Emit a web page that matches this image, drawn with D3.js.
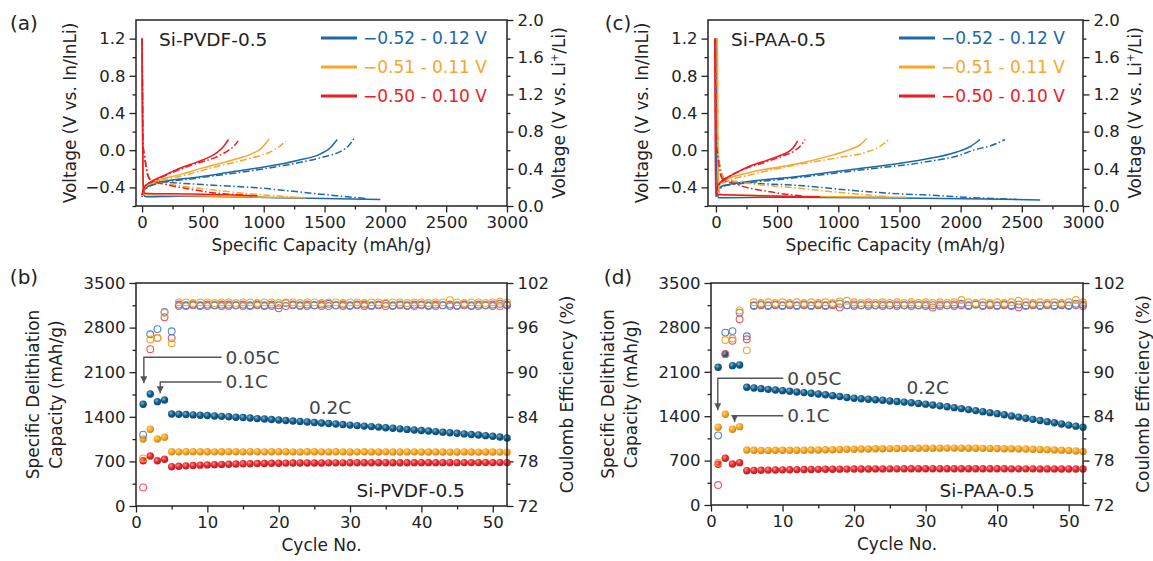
<!DOCTYPE html>
<html>
<head>
<meta charset="utf-8">
<script src="https://cdn.jsdelivr.net/npm/d3@7"></script>
<style>
  body { margin: 0; background: #fff; }
  text { font-family: "DejaVu Sans", "Liberation Sans", sans-serif; fill: #222; }
</style>
</head>
<body>
<svg id="chart" width="1153" height="561"></svg>
<script>
// ---------- data ----------
const legendLabels = ["\u22120.52 - 0.12 V", "\u22120.51 - 0.11 V", "\u22120.50 - 0.10 V"];
const seriesKeys = ["blue", "orange", "red"];

// voltage profiles, [capacity mAh/g, V vs In/InLi]; A = solid, B = dash-dot
// Si-PVDF-0.5
const pvdfBlueDisA = [[0,1.2],[3,0.5],[6,-0.1],[10,-0.4],[18,-0.49],[40,-0.5],[300,-0.495],[700,-0.5],[1100,-0.51],[1500,-0.52],[1959,-0.53]];
const pvdfBlueChgA = [[0,-0.5],[10,-0.45],[30,-0.41],[74,-0.37],[200,-0.33],[456,-0.29],[750,-0.23],[1003,-0.18],[1276,-0.11],[1467,-0.04],[1550,0.03],[1604,0.115]];
const pvdfBlueDisB = [[0,1.2],[4,0.5],[8,0.05],[20,-0.06],[40,-0.22],[70,-0.32],[183,-0.34],[500,-0.37],[1000,-0.41],[1300,-0.45],[1522,-0.48],[1850,-0.52]];
const pvdfBlueChgB = [[0,-0.5],[12,-0.44],[35,-0.41],[100,-0.37],[456,-0.30],[1003,-0.20],[1300,-0.13],[1500,-0.07],[1650,0.0],[1700,0.05],[1740,0.125]];
const pvdfOrangeDisA = [[0,1.2],[3,0.5],[6,-0.1],[10,-0.4],[18,-0.47],[40,-0.48],[400,-0.49],[800,-0.5],[1350,-0.51]];
const pvdfOrangeChgA = [[0,-0.49],[10,-0.43],[25,-0.39],[80,-0.35],[320,-0.26],[500,-0.19],[730,-0.11],[900,-0.04],[980,0.02],[1044,0.12]];
const pvdfOrangeDisB = [[0,1.2],[4,0.5],[8,0.05],[20,-0.06],[40,-0.22],[80,-0.33],[300,-0.38],[600,-0.43],[900,-0.47],[1200,-0.50],[1300,-0.51]];
const pvdfOrangeChgB = [[0,-0.49],[12,-0.43],[30,-0.39],[100,-0.35],[350,-0.27],[600,-0.18],[850,-0.10],[1050,-0.02],[1130,0.04],[1180,0.10]];
const pvdfRedDisA = [[0,1.2],[3,0.5],[6,-0.1],[10,-0.38],[18,-0.46],[40,-0.465],[400,-0.47],[700,-0.48],[950,-0.49]];
const pvdfRedChgA = [[0,-0.48],[10,-0.42],[20,-0.39],[60,-0.35],[183,-0.27],[300,-0.2],[456,-0.125],[560,-0.07],[620,-0.02],[670,0.04],[710,0.115]];
const pvdfRedDisB = [[0,1.2],[4,0.5],[8,0.05],[20,-0.06],[40,-0.24],[70,-0.32],[200,-0.37],[400,-0.42],[600,-0.46],[800,-0.48],[900,-0.49]];
const pvdfRedChgB = [[0,-0.48],[12,-0.42],[30,-0.38],[100,-0.33],[250,-0.24],[450,-0.14],[600,-0.08],[700,-0.01],[760,0.05],[790,0.10]];
// Si-PAA-0.5
const paaBlueDisA = [[0,1.2],[3,0.5],[6,-0.1],[12,-0.45],[20,-0.51],[50,-0.51],[500,-0.505],[1500,-0.515],[2200,-0.525],[2650,-0.535]];
const paaBlueChgA = [[0,-0.5],[10,-0.45],[25,-0.41],[60,-0.38],[141,-0.36],[687,-0.28],[1100,-0.21],[1505,-0.14],[1695,-0.10],[1968,-0.02],[2080,0.04],[2159,0.115]];
const paaBlueDisB = [[0,1.2],[4,0.5],[10,0.05],[18,-0.05],[40,-0.22],[70,-0.31],[141,-0.34],[687,-0.38],[1096,-0.43],[1505,-0.47],[1695,-0.48],[2100,-0.51],[2459,-0.53]];
const paaBlueChgB = [[0,-0.5],[12,-0.45],[30,-0.42],[80,-0.38],[200,-0.36],[700,-0.29],[1200,-0.21],[1695,-0.13],[2000,-0.05],[2104,0.0],[2250,0.05],[2363,0.115]];
const paaOrangeDisA = [[12,1.2],[15,0.5],[18,-0.1],[24,-0.4],[32,-0.47],[60,-0.48],[500,-0.49],[1000,-0.5],[1560,-0.505]];
const paaOrangeChgA = [[0,-0.48],[10,-0.42],[25,-0.38],[60,-0.33],[278,-0.24],[687,-0.14],[959,-0.05],[1100,0.01],[1180,0.06],[1232,0.125]];
const paaOrangeDisB = [[0,1.2],[4,0.5],[10,0.05],[18,-0.05],[40,-0.22],[70,-0.31],[141,-0.33],[687,-0.41],[1096,-0.465],[1400,-0.50]];
const paaOrangeChgB = [[0,-0.48],[12,-0.42],[30,-0.38],[80,-0.34],[300,-0.26],[687,-0.15],[1000,-0.08],[1232,-0.02],[1340,0.04],[1409,0.11]];
const paaRedDisA = [[-10,1.2],[-8,0.5],[-5,-0.1],[-2,-0.4],[5,-0.48],[30,-0.48],[400,-0.49],[700,-0.5],[850,-0.5]];
const paaRedChgA = [[0,-0.47],[8,-0.41],[15,-0.38],[33,-0.35],[141,-0.26],[278,-0.17],[414,-0.11],[520,-0.06],[600,-0.01],[640,0.04],[668,0.10]];
const paaRedDisB = [[-5,1.2],[0,0.5],[5,0.05],[15,-0.05],[30,-0.22],[60,-0.32],[150,-0.36],[278,-0.41],[414,-0.44],[550,-0.47],[700,-0.49]];
const paaRedChgB = [[0,-0.47],[10,-0.41],[20,-0.38],[60,-0.33],[200,-0.22],[400,-0.13],[550,-0.06],[650,0.0],[700,0.06],[728,0.115]];

// cycling, cycles 1..52: delithiation capacity (mAh/g) and coulomb efficiency (%)
const cycles = d3.range(1, 53);
const pvdfCapBlue = [1596,1758,1638,1664,1444,1440,1435,1430,1425,1420,
  1413,1407,1400,1394,1388,1380,1372,1365,1357,1350,
  1342,1335,1327,1318,1310,1302,1294,1286,1278,1270,
  1262,1254,1246,1238,1228,1220,1211,1202,1193,1185,
  1176,1168,1159,1150,1141,1132,1123,1114,1104,1094,1082,1068];
const pvdfCapOrange = [1052,1204,1052,1078,852,850,851,853,852,851,
  850,852,853,851,850,852,851,850,852,853,
  851,850,849,851,852,850,849,851,850,848,
  850,851,849,848,850,849,847,849,850,848,
  847,849,848,846,848,849,847,846,848,847,846,845];
const pvdfCapRed = [711,785,711,733,617,624,630,636,641,645,
  649,653,656,659,662,664,666,668,670,672,
  673,674,675,675,676,676,677,677,677,678,
  678,678,678,679,679,679,679,679,680,680,
  680,680,680,680,680,681,681,681,681,681,681,681];
const pvdfCeBlue = [81.6,95.1,95.8,98.1,95.5,99.1,99.0,99.1,99.0,99.1,
  99.0,99.1,99.1,99.0,99.1,99.0,99.1,99.0,99.1,99.0,
  99.3,99.1,99.0,99.1,99.0,99.1,99.2,99.0,99.1,99.0,
  99.1,99.1,99.0,99.1,99.2,99.0,99.1,99.0,99.1,99.1,
  99.0,99.1,99.0,99.1,99.0,99.1,99.0,99.1,99.0,99.1,99.2,99.1];
const pvdfCeOrange = [78.4,94.4,94.6,98.0,93.9,99.4,99.4,99.3,99.4,99.4,
  99.3,99.4,99.4,99.3,99.4,99.4,99.3,99.4,99.4,99.3,
  99.4,99.4,99.3,99.4,99.4,99.3,99.4,99.4,99.3,99.4,
  99.4,99.3,99.4,99.4,99.3,99.4,99.4,99.3,99.4,99.4,
  99.3,99.4,99.4,99.7,99.4,99.3,99.4,99.4,99.3,99.4,99.5,99.4];
const pvdfCeRed = [74.5,93.1,94.6,97.4,94.6,98.9,98.9,99.0,98.9,98.9,
  99.0,98.9,98.9,99.0,98.9,98.9,99.0,98.9,98.9,98.6,
  98.9,99.0,98.9,98.9,99.0,98.9,98.9,99.0,98.9,98.9,
  99.0,98.9,98.9,99.0,98.9,98.9,99.0,98.9,98.9,99.0,
  98.9,98.9,99.0,98.9,98.9,99.0,98.9,98.9,99.0,98.9,98.9,99.0];

const paaCapBlue = [2172,2377,2197,2208,1856,1845,1834,1823,1813,1803,
  1793,1782,1772,1761,1751,1738,1724,1710,1696,1683,
  1676,1668,1660,1651,1640,1631,1622,1612,1601,1590,
  1577,1563,1549,1535,1520,1504,1488,1472,1456,1440,
  1422,1404,1386,1368,1350,1332,1314,1296,1278,1260,1243,1225];
const paaCapOrange = [1226,1430,1194,1235,867,862,860,861,862,863,
  862,863,864,866,868,870,872,874,878,880,
  882,884,886,888,889,890,892,893,894,895,
  896,896,897,897,896,895,894,893,892,890,
  888,886,884,882,879,876,873,869,865,860,852,845];
const paaCapRed = [642,736,647,668,541,545,548,550,552,554,
  556,558,559,561,562,563,564,565,566,567,
  568,568,569,569,570,570,571,571,571,572,
  572,572,572,572,572,572,572,571,571,571,
  571,570,570,570,570,569,569,569,568,568,568,567];
const paaCeBlue = [81.4,95.3,95.5,98.0,94.8,99.0,99.1,99.0,99.1,99.0,
  99.1,99.0,99.1,99.0,99.1,99.0,99.1,99.2,99.0,99.1,
  99.0,99.1,99.0,99.1,99.0,99.1,99.0,99.1,99.0,99.1,
  99.0,99.1,99.0,99.1,99.2,99.0,99.1,99.0,99.1,99.0,
  99.1,99.0,99.1,99.0,99.1,99.0,99.1,99.0,99.1,99.0,99.2,99.1];
const paaCeOrange = [77.7,94.3,94.5,98.3,92.9,99.4,99.3,99.4,99.3,99.4,
  99.3,99.4,99.3,99.4,99.3,99.4,99.3,99.5,99.6,99.4,
  99.3,99.4,99.3,99.4,99.3,99.4,99.3,99.4,99.3,99.4,
  99.3,99.4,99.3,99.4,99.7,99.4,99.3,99.4,99.3,99.4,
  99.3,99.4,99.6,99.4,99.3,99.4,99.3,99.4,99.3,99.4,99.7,99.4];
const paaCeRed = [74.7,92.4,94.2,97.1,94.4,98.9,99.0,98.9,99.0,98.9,
  99.0,98.9,99.0,98.9,99.0,98.9,99.0,98.7,99.0,98.9,
  99.0,98.9,99.0,98.9,99.0,98.9,99.0,98.9,99.0,98.9,
  98.7,98.9,99.0,98.9,99.0,98.9,99.1,98.9,99.0,98.9,
  99.0,98.9,98.7,98.9,99.0,98.9,99.0,98.9,99.0,98.9,99.0,98.9];

// ---------- drawing ----------
const lineColor = { blue: "#1d68a6", orange: "#f9a62a", red: "#ec1c24" };
const ballColor = { blue: "#0e5d8c", orange: "#f7a51f", red: "#e8262b" };
const ringColor = { blue: "#4f86d2", orange: "#f5a524", red: "#ee5560" };

const svg = d3.select("#chart");
const defs = svg.append("defs");

seriesKeys.forEach(k => {
  const c = ballColor[k];
  const gr = defs.append("radialGradient").attr("id", "ball-" + k)
    .attr("cx", "38%").attr("cy", "35%").attr("r", "70%");
  gr.append("stop").attr("offset", "0%").attr("stop-color", d3.interpolateRgb(c, "#fff")(0.5));
  gr.append("stop").attr("offset", "50%").attr("stop-color", c);
  gr.append("stop").attr("offset", "100%").attr("stop-color", d3.color(c).darker(0.7));
});

defs.append("marker").attr("id", "arrow")
  .attr("viewBox", "0 0 8 8").attr("refX", 8).attr("refY", 4)
  .attr("markerWidth", 7).attr("markerHeight", 7)
  .attr("markerUnits", "userSpaceOnUse").attr("orient", "auto")
  .append("path").attr("d", "M0,0 L8,4 L0,8 z").attr("fill", "#555");

function addAxis(g, axisFn, scale, major, minor, fmt, transform) {
  g.append("g").attr("transform", transform)
    .call(axisFn(scale).tickValues(minor).tickSize(3.5).tickFormat(""))
    .call(a => a.select(".domain").remove())
    .selectAll("line").attr("stroke", "#222").attr("stroke-width", 1.3);
  const ax = g.append("g").attr("transform", transform)
    .call(axisFn(scale).tickValues(major).tickSize(6.5).tickPadding(4).tickFormat(fmt))
    .call(a => a.select(".domain").remove());
  ax.selectAll("line").attr("stroke", "#222").attr("stroke-width", 1.3);
  ax.selectAll("text").attr("font-size", "16.5px").attr("fill", "#222")
    .style("font-family", '"DejaVu Sans", sans-serif');
}

function frame(g, box) {
  g.append("rect").attr("x", box.x0).attr("y", box.y0)
    .attr("width", box.x1 - box.x0).attr("height", box.y1 - box.y0)
    .attr("fill", "none").attr("stroke", "#222").attr("stroke-width", 1.5);
}

function vTitle(g, x, y, lines, size) {
  const t = g.append("text").attr("transform", `translate(${x},${y}) rotate(-90)`)
    .attr("text-anchor", "middle").attr("font-size", size || "17px");
  lines(t);
}

function voltagePanel(box, xMin, curves, sample, letter, legendX) {
  const g = svg.append("g");
  const x = d3.scaleLinear().domain([xMin, 3000]).range([box.x0, box.x1]);
  const y = d3.scaleLinear().domain([-0.6, 1.4]).range([box.y1, box.y0]);
  const y2 = d3.scaleLinear().domain([0, 2.0]).range([box.y1, box.y0]);

  addAxis(g, d3.axisBottom, x, d3.range(0, 3001, 500), d3.range(250, 3000, 500), d3.format("d"), `translate(0,${box.y1})`);
  addAxis(g, d3.axisLeft, y, [-0.4, 0, 0.4, 0.8, 1.2], [-0.6, -0.2, 0.2, 0.6, 1.0], d3.format(".1f"), `translate(${box.x0},0)`);
  addAxis(g, d3.axisRight, y2, [0, 0.4, 0.8, 1.2, 1.6, 2.0], [0.2, 0.6, 1.0, 1.4, 1.8], d3.format(".1f"), `translate(${box.x1},0)`);

  const line = d3.line().x(d => x(d[0])).y(d => y(d[1])).curve(d3.curveMonotoneX);
  const clip = "clip-" + letter;
  defs.append("clipPath").attr("id", clip).append("rect")
    .attr("x", box.x0).attr("y", box.y0).attr("width", box.x1 - box.x0).attr("height", box.y1 - box.y0);
  const pg = g.append("g").attr("clip-path", `url(#${clip})`);
  ["blue", "orange", "red"].forEach(k => {
    curves[k].forEach((pts, i) => {
      pg.append("path").datum(pts).attr("d", line)
        .attr("fill", "none").attr("stroke", lineColor[k]).attr("stroke-width", 1.5)
        .attr("stroke-dasharray", i >= 2 ? "7,2.5,1.5,2.5" : null);
    });
  });
  frame(g, box);

  // legend
  legendLabels.forEach((lab, i) => {
    const k = seriesKeys[i];
    const ly = box.y0 + 18 + i * 29;
    g.append("line").attr("x1", legendX).attr("x2", legendX + 36).attr("y1", ly).attr("y2", ly)
      .attr("stroke", lineColor[k]).attr("stroke-width", 3);
    g.append("text").attr("x", legendX + 42).attr("y", ly).attr("dy", "0.35em")
      .attr("font-size", "17px").style("fill", lineColor[k]).text(lab);
  });
  g.append("text").attr("x", box.x0 + 23).attr("y", box.y0 + 20).attr("dy", "0.35em")
    .attr("font-size", "18.5px").text(sample);

  g.append("text").attr("x", (box.x0 + box.x1) / 2).attr("y", box.y1 + 45)
    .attr("text-anchor", "middle").attr("font-size", "17px").text("Specific Capacity (mAh/g)");
  vTitle(g, box.x0 - 60, (box.y0 + box.y1) / 2, t => t.text("Voltage (V vs. In/InLi)"));
  vTitle(g, box.x1 + 58, (box.y0 + box.y1) / 2, t => {
    t.append("tspan").text("Voltage (V vs. Li");
    t.append("tspan").attr("font-size", "10px").attr("dy", "-7").text("+");
    t.append("tspan").attr("dy", "7").text("/Li)");
  });
  g.append("text").attr("x", letter === "a" ? 24 : 618).attr("y", box.y0 + 3).attr("dy", "0.35em")
    .attr("text-anchor", "middle").attr("font-size", "20px").text(`(${letter})`);
}

function cyclePanel(box, caps, ces, sample, letter, ann) {
  const g = svg.append("g");
  const x = d3.scaleLinear().domain([0, 52]).range([box.x0, box.x1]);
  const y = d3.scaleLinear().domain([0, 3500]).range([box.y1, box.y0]);
  const y2 = d3.scaleLinear().domain([72, 102]).range([box.y1, box.y0]);

  addAxis(g, d3.axisBottom, x, d3.range(0, 51, 10), d3.range(5, 52, 10), d3.format("d"), `translate(0,${box.y1})`);
  addAxis(g, d3.axisLeft, y, d3.range(0, 3501, 700), d3.range(350, 3500, 700), d3.format("d"), `translate(${box.x0},0)`);
  addAxis(g, d3.axisRight, y2, d3.range(72, 103, 6), d3.range(75, 102, 6), d3.format("d"), `translate(${box.x1},0)`);

  seriesKeys.forEach(k => {
    g.append("g").selectAll("circle").data(cycles).join("circle")
      .attr("cx", d => x(d)).attr("cy", (d, i) => y(caps[k][i])).attr("r", 3.7)
      .attr("fill", `url(#ball-${k})`);
  });
  ["red", "blue", "orange"].forEach(k => {
    g.append("g").selectAll("circle").data(cycles).join("circle")
      .attr("cx", d => x(d)).attr("cy", (d, i) => y2(ces[k][i])).attr("r", 3.4)
      .attr("fill", "none").attr("stroke", ringColor[k]).attr("stroke-width", 1.1);
  });
  frame(g, box);

  // rate annotations
  ann.arrows.forEach(a => {
    g.append("path")
      .attr("d", `M${x(a.xEnd)},${y(a.yLine)} H${x(a.xStart)} V${y(a.yTip)}`)
      .attr("fill", "none").attr("stroke", "#555").attr("stroke-width", 1.4)
      .attr("marker-end", "url(#arrow)");
    g.append("text").attr("x", x(a.xEnd) + 4).attr("y", y(a.yLine)).attr("dy", "0.35em")
      .attr("font-size", "18.5px").style("fill", "#444").text(a.label);
  });
  g.append("text").attr("x", x(ann.rate[0])).attr("y", y(ann.rate[1])).attr("dy", "0.35em")
    .attr("text-anchor", "middle").attr("font-size", "18.5px").style("fill", "#444").text("0.2C");
  g.append("text").attr("x", x(ann.sample[0])).attr("y", y(ann.sample[1])).attr("dy", "0.35em")
    .attr("text-anchor", "middle").attr("font-size", "18.5px").text(sample);

  g.append("text").attr("x", (box.x0 + box.x1) / 2).attr("y", box.y1 + 45)
    .attr("text-anchor", "middle").attr("font-size", "17px").text("Cycle No.");
  vTitle(g, box.x0 - 97, (box.y0 + box.y1) / 2, t => t.text("Specific Delithiation"));
  vTitle(g, box.x0 - 74, (box.y0 + box.y1) / 2, t => t.text("Capacity (mAh/g)"));
  vTitle(g, box.x1 + 66, (box.y0 + box.y1) / 2, t => t.text("Coulomb Efficiency (%)"));
  g.append("text").attr("x", letter === "b" ? 24 : 618).attr("y", box.y0 - 6).attr("dy", "0.35em")
    .attr("text-anchor", "middle").attr("font-size", "20px").text(`(${letter})`);
}

voltagePanel({ x0: 136, x1: 507, y0: 20, y1: 206 }, -50, {
  blue: [pvdfBlueDisA, pvdfBlueChgA, pvdfBlueDisB, pvdfBlueChgB],
  orange: [pvdfOrangeDisA, pvdfOrangeChgA, pvdfOrangeDisB, pvdfOrangeChgB],
  red: [pvdfRedDisA, pvdfRedChgA, pvdfRedDisB, pvdfRedChgB]
}, "Si-PVDF-0.5", "a", 321);

voltagePanel({ x0: 708, x1: 1083, y0: 20, y1: 206 }, -65, {
  blue: [paaBlueDisA, paaBlueChgA, paaBlueDisB, paaBlueChgB],
  orange: [paaOrangeDisA, paaOrangeChgA, paaOrangeDisB, paaOrangeChgB],
  red: [paaRedDisA, paaRedChgA, paaRedDisB, paaRedChgB]
}, "Si-PAA-0.5", "c", 899);

cyclePanel({ x0: 136, x1: 507, y0: 283, y1: 506 },
  { blue: pvdfCapBlue, orange: pvdfCapOrange, red: pvdfCapRed },
  { blue: pvdfCeBlue, orange: pvdfCeOrange, red: pvdfCeRed },
  "Si-PVDF-0.5", "b", {
    arrows: [
      { label: "0.05C", xStart: 1.1, xEnd: 12.0, yLine: 2334, yTip: 1925 },
      { label: "0.1C", xStart: 3.4, xEnd: 12.0, yLine: 1947, yTip: 1770 }
    ],
    rate: [27.2, 1538], sample: [38.5, 240]
  });

cyclePanel({ x0: 711, x1: 1083, y0: 283, y1: 505 },
  { blue: paaCapBlue, orange: paaCapOrange, red: paaCapRed },
  { blue: paaCeBlue, orange: paaCeOrange, red: paaCeRed },
  "Si-PAA-0.5", "d", {
    arrows: [
      { label: "0.05C", xStart: 0.95, xEnd: 10.1, yLine: 1998, yTip: 1495 },
      { label: "0.1C", xStart: 3.3, xEnd: 10.1, yLine: 1408, yTip: 1310 }
    ],
    rate: [30.3, 1845], sample: [38.6, 230]
  });
</script>
</body>
</html>
